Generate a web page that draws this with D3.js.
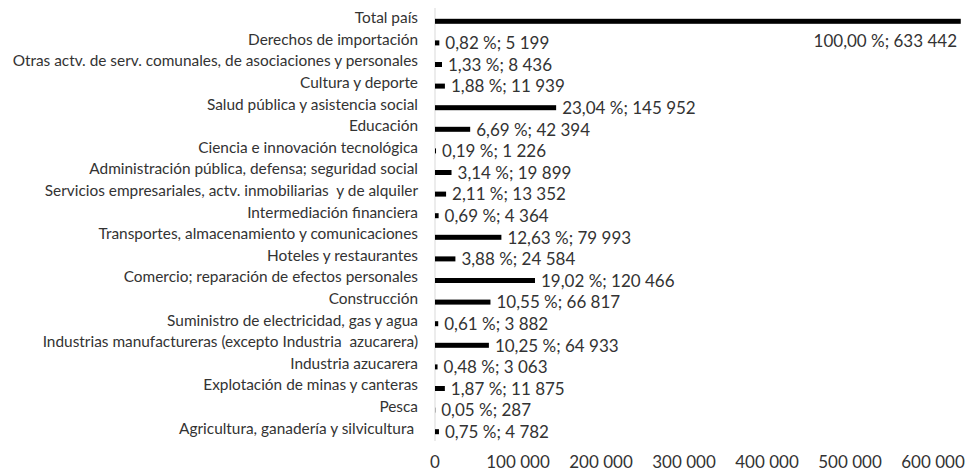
<!DOCTYPE html>
<html>
<head>
<meta charset="utf-8">
<script src="https://cdn.jsdelivr.net/npm/d3@7"></script>
<style>
  body { margin: 0; background: #fff; }
  text { font-family: Lato, "Open Sans", sans-serif; fill: #333; }
</style>
</head>
<body>
<div id="chart"></div>
<script>
// categories, top to bottom
const categories = [
  "Total país",
  "Derechos de importación",
  "Otras actv. de serv. comunales, de asociaciones y personales",
  "Cultura y deporte",
  "Salud pública y asistencia social",
  "Educación",
  "Ciencia e innovación tecnológica",
  "Administración pública, defensa; seguridad social",
  "Servicios empresariales, actv. inmobiliarias  y de alquiler",
  "Intermediación financiera",
  "Transportes, almacenamiento y comunicaciones",
  "Hoteles y restaurantes",
  "Comercio; reparación de efectos personales",
  "Construcción",
  "Suministro de electricidad, gas y agua",
  "Industrias manufactureras (excepto Industria  azucarera)",
  "Industria azucarera",
  "Explotación de minas y canteras",
  "Pesca",
  "Agricultura, ganadería y silvicultura "
];
const values = [633442, 5199, 8436, 11939, 145952, 42394, 1226, 19899, 13352, 4364,
  79993, 24584, 120466, 66817, 3882, 64933, 3063, 11875, 287, 4782];
const percents = [100.00, 0.82, 1.33, 1.88, 23.04, 6.69, 0.19, 3.14, 2.11, 0.69,
  12.63, 3.88, 19.02, 10.55, 0.61, 10.25, 0.48, 1.87, 0.05, 0.75];
const xTicks = [0, 100000, 200000, 300000, 400000, 500000, 600000];

const width = 967, height = 471;
const loc = d3.formatLocale({decimal: ",", thousands: " ", grouping: [3], currency: ["", ""]});
const fmtInt = loc.format(",d");
const fmtPct = loc.format(".2f");

const svg = d3.select("#chart").append("svg")
  .attr("width", width)
  .attr("height", height);

const x = d3.scaleLinear()
  .domain([0, 600000])
  .range([435, 933]);

const y = d3.scaleBand()
  .domain(categories)
  .range([8.5, 440.5])
  .padding(0);

// axis line
svg.append("line")
  .attr("x1", x(0)).attr("x2", x(0))
  .attr("y1", 8).attr("y2", 441)
  .attr("stroke", "#d9d9d9")
  .attr("stroke-width", 1);

// x tick labels
svg.append("g")
  .selectAll("text")
  .data(xTicks)
  .join("text")
    .attr("x", d => x(d))
    .attr("y", 464)
    .attr("text-anchor", "middle")
    .attr("dominant-baseline", "middle")
    .style("font-size", "17px")
    .text(d => fmtInt(d));

// category labels
svg.append("g")
  .selectAll("text")
  .data(categories)
  .join("text")
    .attr("x", 418)
    .attr("y", d => y(d) + y.bandwidth() / 2)
    .attr("text-anchor", "end")
    .attr("dominant-baseline", "middle")
    .style("font-size", "15.4px")
    .style("white-space", "pre")
    .text(d => d);

// bars
svg.append("g")
  .selectAll("rect")
  .data(values)
  .join("rect")
    .attr("x", x(0))
    .attr("y", (d, i) => y(categories[i]) + y.bandwidth() / 2 - 0.5)
    .attr("width", d => x(d) - x(0))
    .attr("height", 5)
    .attr("fill", "#000");

// value labels
svg.append("g")
  .selectAll("text")
  .data(values)
  .join("text")
    .attr("x", (d, i) => i === 0 ? 957 : x(d) + 6)
    .attr("y", (d, i) => y(categories[i]) + y.bandwidth() / 2 + (i === 0 ? 23 : 4))
    .attr("text-anchor", (d, i) => i === 0 ? "end" : "start")
    .attr("dominant-baseline", "middle")
    .style("font-size", "17px")
    .style("white-space", "pre")
    .text((d, i) => fmtPct(percents[i]) + " %; " + fmtInt(d));
</script>
</body>
</html>
